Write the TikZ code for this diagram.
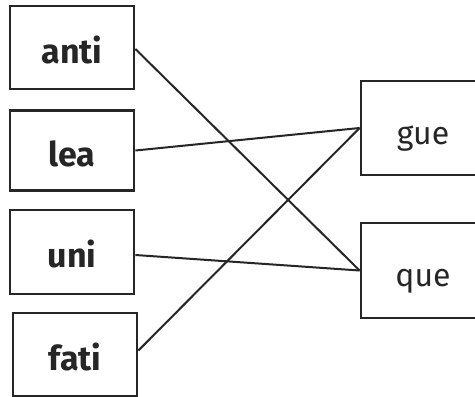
\documentclass[tikz,border=0pt]{standalone}
\usepackage{fontspec}
\setmainfont{Fira Sans}
\definecolor{ink}{HTML}{262626}
\begin{document}
\begin{tikzpicture}[x=1pt,y=-1pt,
  leftbox/.style={draw=ink,line width=2.8pt,minimum width=124pt,inner sep=0pt,text height=31pt,text depth=0pt,font=\fontsize{34}{36}\selectfont\bfseries,text=ink},
  rightbox/.style={draw=ink,line width=2.8pt,minimum width=124pt,inner sep=0pt,text height=32pt,text depth=0pt,font=\fontsize{32}{34}\selectfont,text=ink},
  link/.style={draw=ink,line width=2pt}]
\useasboundingbox (0,0) rectangle (475,397);
\clip (0,0) rectangle (475,397);
\fill[white] (0,0) rectangle (475,397);
\node[leftbox,minimum height=83pt] (anti) at (72,47.5) {anti};
\node[leftbox,minimum height=80pt] (lea) at (72,150.5) {lea};
\node[leftbox,minimum height=84pt] (uni) at (72,252) {uni};
\node[leftbox,minimum height=83pt] (fati) at (75,354.5) {fati};
\node[rightbox,minimum height=94pt] (gue) at (423,128) {gue};
\node[rightbox,minimum height=95pt] (que) at (423,270.5) {que};
\draw[link] (anti.east) ++(0,1.5) coordinate (a1) (a1) -- (que.west);
\draw[link] (lea.east) -- (gue.west);
\draw[link] (uni.east) ++(0,3) coordinate (u1) (u1) -- (que.west);
\draw[link] (fati.east) ++(0,-4) coordinate (f1) (f1) -- (gue.west);
\end{tikzpicture}
\end{document}
